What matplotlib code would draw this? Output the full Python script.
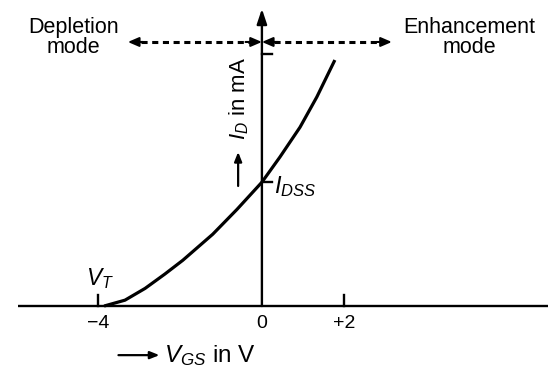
import matplotlib
matplotlib.use("Agg")
import matplotlib.pyplot as plt

# transfer characteristic (ID in mA, arbitrary scale, IDSS ~ 3)
vgs = [-3.85, -3.34, -2.85, -2.37, -1.93, -1.2, -0.61, 0.0, 0.44, 0.93, 1.34, 1.78]
id_ma = [0.0, 0.14, 0.42, 0.76, 1.09, 1.71, 2.3, 2.95, 3.55, 4.26, 4.98, 5.86]
tick_vals = [-4, 0, 2]
tick_labels = ["\u22124", "0", "+2"]
i_dss = 2.95
v_t = -4

plt.rcParams["font.family"] = ["Liberation Sans", "DejaVu Sans"]
plt.rcParams["mathtext.fontset"] = "custom"
plt.rcParams["mathtext.rm"] = "Liberation Sans"
plt.rcParams["mathtext.it"] = "Liberation Sans:italic"

fig = plt.figure(figsize=(5.48, 3.69), dpi=100)
ax = fig.add_axes([0, 0, 1, 1])
ax.set_xlim(-6.39, 6.98)
ax.set_ylim(-1.5, 7.29)
ax.axis("off")

lw = 1.7
# axes
ax.plot([-5.95, 6.98], [0, 0], color="black", lw=lw, solid_capstyle="butt")
ax.annotate("", xy=(0, 7.08), xytext=(0, 0),
            arrowprops=dict(arrowstyle="-|>,head_length=0.9,head_width=0.3",
                            color="black", lw=lw, shrinkA=0, shrinkB=0))

# ticks
for v in tick_vals:
    if v != 0:
        ax.plot([v, v], [0, 0.26], color="black", lw=lw)
for v, lab in zip(tick_vals, tick_labels):
    ax.text(v, -0.22, lab, ha="center", va="top", fontsize=14)
ax.plot([0, 0.25], [6.0, 6.0], color="black", lw=lw)
ax.plot([0, 0.25], [i_dss, i_dss], color="black", lw=lw)

# curve
ax.plot(vgs, id_ma, color="black", lw=2.3, solid_capstyle="butt",
        solid_joinstyle="round")

# labels
ax.text(v_t + 0.05, 0.35, r"$V_T$", ha="center", va="bottom", fontsize=16.5)
ax.text(0.3, 2.85, r"$I_{DSS}$", ha="left", va="center", fontsize=17)
ax.text(-0.55, 4.95, r"$I_D$ in mA", rotation=90, ha="center", va="center", fontsize=16)
ax.annotate("", xy=(-0.58, 3.67), xytext=(-0.58, 2.86),
            arrowprops=dict(arrowstyle="-|>,head_length=0.55,head_width=0.22",
                            color="black", lw=1.6, shrinkA=0, shrinkB=0))
ax.annotate("", xy=(-2.5, -1.17), xytext=(-3.5, -1.17),
            arrowprops=dict(arrowstyle="-|>,head_length=0.55,head_width=0.22",
                            color="black", lw=1.6, shrinkA=0, shrinkB=0))
ax.text(-2.4, -1.17, r"$V_{GS}$ in V", ha="left", va="center", fontsize=17.5)

# mode arrows
y_m = 6.29
ax.plot([-2.95, -0.3], [y_m, y_m], color="black", lw=2.2, ls=(0, (2, 1.5)))
ax.plot([0.3, 2.85], [y_m, y_m], color="black", lw=2.2, ls=(0, (2, 1.5)))
for a, b in [(-2.9, -3.27), (-0.4, 0.0), (0.4, 0.0), (2.8, 3.17)]:
    ax.annotate("", xy=(b, y_m), xytext=(a, y_m),
                arrowprops=dict(arrowstyle="-|>,head_length=0.65,head_width=0.28",
                                color="black", lw=1.5, shrinkA=0, shrinkB=0))
ax.text(-4.6, 6.4, "Depletion\nmode", ha="center", va="center", fontsize=15.5,
        linespacing=0.95)
ax.text(5.07, 6.4, "Enhancement\nmode", ha="center", va="center", fontsize=15.5,
        linespacing=0.95)

fig.savefig("out.png", dpi=100)
